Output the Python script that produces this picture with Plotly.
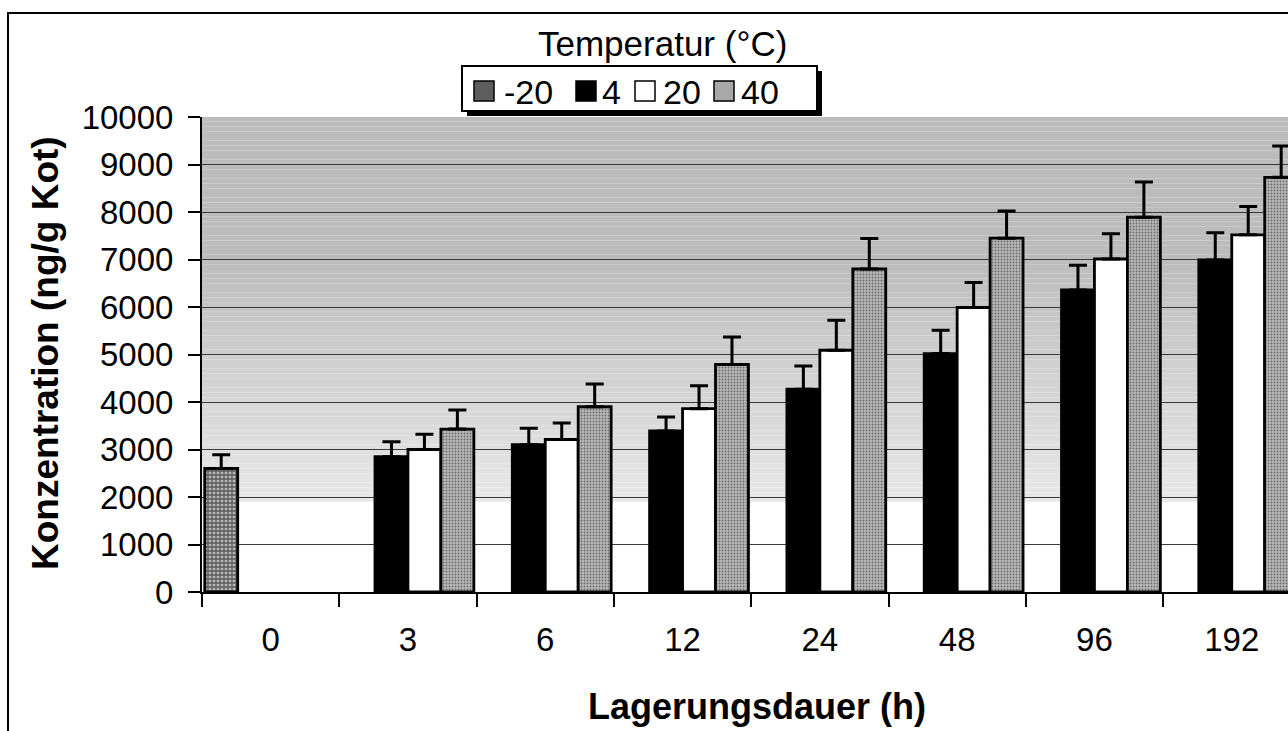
import plotly.graph_objects as go

# Storage time (h) and mean concentrations (ng/g faeces) per storage temperature
storage_hours = ["0", "3", "6", "12", "24", "48", "96", "192"]

temp_labels = ["-20", "4", "20", "40"]

conc_m20 = [2600, None, None, None, None, None, None, None]
conc_4 = [None, 2850, 3100, 3390, 4270, 5020, 6360, 6990]
conc_20 = [None, 3000, 3210, 3860, 5090, 5990, 7010, 7520]
conc_40 = [None, 3430, 3900, 4790, 6800, 7450, 7890, 8730]

# standard deviations (upper whiskers only)
sd_m20 = [290, None, None, None, None, None, None, None]
sd_4 = [None, 315, 350, 295, 490, 490, 520, 575]
sd_20 = [None, 320, 350, 480, 630, 525, 530, 595]
sd_40 = [None, 400, 480, 580, 640, 570, 740, 660]

FONT = "Liberation Sans, Arial, sans-serif"

# page geometry of the plotting area (pixels)
W, H = 1288, 731
PL, PT, PR, PB = 202, 117, 1288, 592


def px_x(px):
    return (px - PL) / (PR - PL)


def px_y(py):
    return (PB - py) / (PB - PT)


styles = {
    "-20": dict(color="#a8a8a8",
                pattern=dict(shape="+", fgcolor="black", bgcolor="#b8b8b8", size=4, solidity=0.55)),
    "4": dict(color="black"),
    "20": dict(color="white"),
    "40": dict(color="#a8a8a8",
               pattern=dict(shape=".", fgcolor="#202020", bgcolor="#b8b8b8", size=3, solidity=0.3)),
}
# flat colours used for the key symbols
key_fill = {"-20": "#5e5e5e", "4": "black", "20": "white", "40": "#a8a8a8"}

series = [
    (temp_labels[0], conc_m20, sd_m20),
    (temp_labels[1], conc_4, sd_4),
    (temp_labels[2], conc_20, sd_20),
    (temp_labels[3], conc_40, sd_40),
]

fig = go.Figure()
for name, vals, sds in series:
    fig.add_trace(go.Bar(
        x=storage_hours, y=vals, name=name, showlegend=False,
        marker=dict(line=dict(color="black", width=2.8), **styles[name]),
        error_y=dict(type="data", array=sds, symmetric=False,
                     arrayminus=[0 if s is not None else None for s in sds],
                     color="black", thickness=3, width=9),
    ))

# shaded plot background: white at the bottom, darkening towards the top
shapes = []
lo = 1900
step = 100
v = lo
while v < 10000:
    frac = min(1.0, (v - lo) / (7000 - lo))
    g = int(round(232 - frac * (232 - 188)))
    shapes.append(dict(type="rect", xref="paper", yref="y", x0=0, x1=1, y0=v, y1=v + step,
                       fillcolor=f"rgb({g},{g},{g})", line=dict(width=0), layer="below"))
    v += step

# outer frame of the figure
shapes.append(dict(type="rect", xref="paper", yref="paper",
                   x0=px_x(8), x1=px_x(1400), y0=px_y(900), y1=px_y(13),
                   line=dict(color="black", width=2), fillcolor="rgba(0,0,0,0)", layer="above"))

# key box with drop shadow
box_l, box_r, box_t, box_b = 462, 817, 66, 111
shapes.append(dict(type="rect", xref="paper", yref="paper",
                   x0=px_x(box_l + 5), x1=px_x(box_r + 5), y0=px_y(box_b + 5), y1=px_y(box_t + 5),
                   line=dict(width=0), fillcolor="black", layer="above"))
shapes.append(dict(type="rect", xref="paper", yref="paper",
                   x0=px_x(box_l), x1=px_x(box_r), y0=px_y(box_b), y1=px_y(box_t),
                   line=dict(color="black", width=2), fillcolor="white", layer="above"))

annotations = []
sym_left = [474, 576, 635, 714]
txt_left = [502, 600, 661, 739]
key_mid = 91
for name, sx, tx in zip(temp_labels, sym_left, txt_left):
    shapes.append(dict(type="rect", xref="paper", yref="paper",
                       x0=px_x(sx), x1=px_x(sx + 20), y0=px_y(key_mid + 10), y1=px_y(key_mid - 10),
                       line=dict(color="black", width=1.5), fillcolor=key_fill[name], layer="above"))
    annotations.append(dict(text=name, xref="paper", yref="paper",
                            x=px_x(tx), y=px_y(key_mid + 1), xanchor="left", yanchor="middle",
                            showarrow=False, font=dict(size=34, family=FONT)))

annotations += [
    dict(text="Temperatur (°C)", xref="paper", yref="paper",
         x=px_x(662), y=px_y(43), xanchor="center", yanchor="middle",
         showarrow=False, font=dict(size=35, family=FONT)),
    dict(text="<b>Lagerungsdauer (h)</b>", xref="paper", yref="paper",
         x=px_x(757), y=px_y(706), xanchor="center", yanchor="middle",
         showarrow=False, font=dict(size=36, family=FONT)),
    dict(text="<b>Konzentration (ng/g Kot)</b>", xref="paper", yref="paper",
         x=px_x(45), y=px_y(353), xanchor="center", yanchor="middle",
         textangle=-90, showarrow=False, font=dict(size=37, family=FONT)),
]

fig.update_layout(
    width=W, height=H,
    margin=dict(l=PL, r=W - PR, t=PT, b=H - PB, autoexpand=False),
    paper_bgcolor="white", plot_bgcolor="white",
    font=dict(family=FONT, color="black", size=33),
    barmode="group", bargap=0.04, bargroupgap=0,
    showlegend=False,
    shapes=shapes,
    annotations=annotations,
    xaxis=dict(type="category", categoryorder="array", categoryarray=storage_hours,
               range=[-0.5, -0.5 + 1086 / 137.3], tickson="boundaries",
               ticks="outside", ticklen=13, tickwidth=2, tickcolor="black",
               showline=True, linecolor="black", linewidth=2, showgrid=False,
               tickfont=dict(size=33), ticklabelstandoff=17),
    yaxis=dict(range=[0, 10000], dtick=1000, tickformat="d",
               ticks="outside", ticklen=12, tickwidth=2, tickcolor="black",
               showline=True, linecolor="black", linewidth=2,
               showgrid=True, gridcolor="#3a3a3a", gridwidth=1, zeroline=False,
               tickfont=dict(size=33), ticklabelstandoff=8),
)

fig.write_html("out.html")
